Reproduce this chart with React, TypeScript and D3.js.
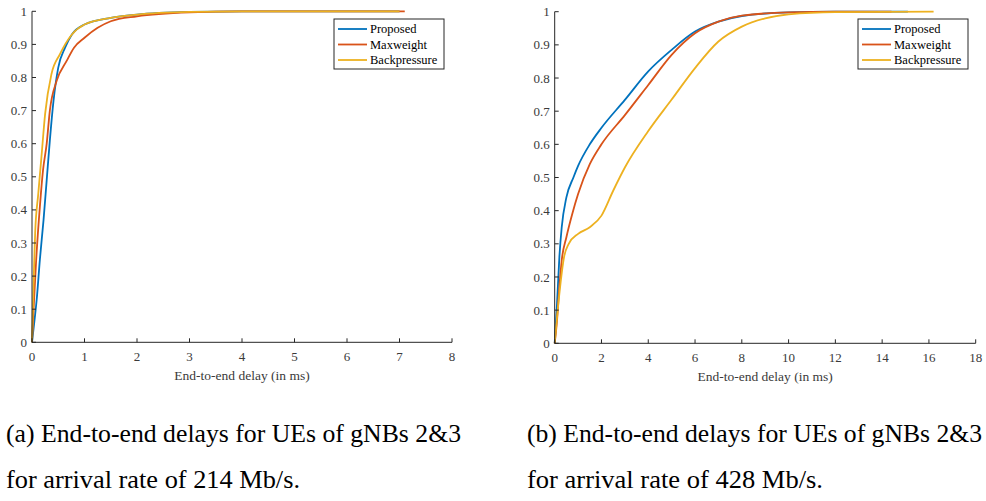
import React from "react";
import * as d3 from "d3";

const seriesNames = ["Proposed", "Maxweight", "Backpressure"];
const colors = ["#0072BD", "#D95319", "#EDB120"];

// Chart (a): 214 Mb/s
const aProposedX = [0, 0.05, 0.09, 0.15, 0.22, 0.28, 0.34, 0.41, 0.5, 0.63, 0.76, 1.0, 1.5, 2.0, 3.0, 4.0, 7.0];
const aProposedY = [0, 0.07, 0.13, 0.25, 0.37, 0.49, 0.61, 0.73, 0.83, 0.89, 0.93, 0.96, 0.98, 0.99, 0.998, 1, 1];
const aMaxX = [0, 0.03, 0.08, 0.15, 0.21, 0.28, 0.34, 0.47, 0.66, 0.8, 1.0, 1.25, 1.5, 2.0, 3.0, 4.0, 7.1];
const aMaxY = [0, 0.1, 0.25, 0.41, 0.52, 0.6, 0.7, 0.79, 0.85, 0.89, 0.92, 0.95, 0.97, 0.985, 0.997, 1, 1];
const aBackX = [0, 0.03, 0.06, 0.12, 0.18, 0.25, 0.37, 0.53, 0.76, 1.0, 1.5, 2.0, 3.0, 4.0, 7.0];
const aBackY = [0, 0.18, 0.33, 0.45, 0.56, 0.69, 0.81, 0.87, 0.93, 0.96, 0.98, 0.99, 0.998, 1, 1];

// Chart (b): 428 Mb/s
const bProposedX = [0, 0.1, 0.2, 0.3, 0.5, 0.8, 1.0, 1.5, 2.0, 3.0, 4.0, 5.0, 6.0, 7.0, 8.0, 10.0, 12.0, 15.1];
const bProposedY = [0, 0.12, 0.26, 0.35, 0.44, 0.5, 0.535, 0.6, 0.65, 0.734, 0.82, 0.885, 0.94, 0.97, 0.987, 0.998, 1, 1];
const bMaxX = [0, 0.1, 0.2, 0.3, 0.5, 0.75, 1.0, 1.5, 2.0, 3.0, 4.0, 5.0, 6.0, 7.0, 8.0, 10.0, 12.0, 14.4];
const bMaxY = [0, 0.07, 0.17, 0.25, 0.32, 0.39, 0.45, 0.54, 0.6, 0.688, 0.779, 0.87, 0.935, 0.97, 0.988, 0.998, 1, 1];
const bBackX = [0, 0.2, 0.4, 0.6, 1.0, 1.5, 2.0, 2.5, 3.0, 4.0, 5.0, 6.0, 7.0, 8.0, 9.0, 10.0, 12.0, 16.2];
const bBackY = [0, 0.15, 0.26, 0.3, 0.33, 0.35, 0.385, 0.46, 0.53, 0.64, 0.735, 0.83, 0.91, 0.955, 0.98, 0.992, 0.999, 1];

const yTicks = [0, 0.1, 0.2, 0.3, 0.4, 0.5, 0.6, 0.7, 0.8, 0.9, 1];
const aXTicks = [0, 1, 2, 3, 4, 5, 6, 7, 8];
const bXTicks = [0, 2, 4, 6, 8, 10, 12, 14, 16, 18];
const xLabel = "End-to-end delay (in ms)";
const captionA = ["(a) End-to-end delays for UEs of gNBs 2&3", "for arrival rate of 214 Mb/s."];
const captionB = ["(b) End-to-end delays for UEs of gNBs 2&3", "for arrival rate of 428 Mb/s."];

type Panel = {
  xs: number[][];
  ys: number[][];
  xMax: number;
  xTicks: number[];
  x0: number;
  x1: number;
  y0: number;
  y1: number;
  legendX: number;
};

const AXIS = "#262626";
const LABEL = "#3a3a3a";
const FONT = "'Liberation Serif', 'Times New Roman', serif";

function ChartPanel({ p }: { p: Panel }) {
  const x = d3.scaleLinear().domain([0, p.xMax]).range([p.x0, p.x1]);
  const y = d3.scaleLinear().domain([0, 1]).range([p.y0, p.y1]);
  const line = d3
    .line<[number, number]>()
    .x((d) => x(d[0]))
    .y((d) => y(d[1]))
    .curve(d3.curveMonotoneX);
  const tl = 4;
  const lx = p.legendX;
  return (
    <g>
      {p.xs.map((xs, i) => (
        <path
          key={i}
          d={line(xs.map((v, j) => [v, p.ys[i][j]] as [number, number])) || ""}
          fill="none"
          stroke={colors[i]}
          strokeWidth={1.8}
        />
      ))}
      <line x1={p.x0} x2={p.x0} y1={p.y0} y2={p.y1} stroke={AXIS} strokeWidth={1} />
      <line x1={p.x0} x2={p.x1} y1={p.y0} y2={p.y0} stroke={AXIS} strokeWidth={1} />
      {yTicks.map((t) => (
        <g key={"y" + t}>
          <line x1={p.x0} x2={p.x0 + tl} y1={y(t)} y2={y(t)} stroke={AXIS} strokeWidth={1} />
          <text x={p.x0 - 5} y={y(t)} dy="0.35em" textAnchor="end" fontSize={13} fill={LABEL} fontFamily={FONT}>
            {String(t)}
          </text>
        </g>
      ))}
      {p.xTicks.map((t) => (
        <g key={"x" + t}>
          <line x1={x(t)} x2={x(t)} y1={p.y0} y2={p.y0 - tl} stroke={AXIS} strokeWidth={1} />
          <text x={x(t)} y={p.y0 + 19} textAnchor="middle" fontSize={13} fill={LABEL} fontFamily={FONT}>
            {String(t)}
          </text>
        </g>
      ))}
      <text x={(p.x0 + p.x1) / 2} y={p.y0 + 38} textAnchor="middle" fontSize={13.5} fill={LABEL} fontFamily={FONT}>
        {xLabel}
      </text>
      <rect x={lx} y={19} width={110} height={50} fill="white" stroke={AXIS} strokeWidth={1} />
      {seriesNames.map((n, i) => (
        <g key={n}>
          <line x1={lx + 4} x2={lx + 33} y1={29 + i * 15.5} y2={29 + i * 15.5} stroke={colors[i]} strokeWidth={1.8} />
          <text x={lx + 36} y={29 + i * 15.5} dy="0.35em" fontSize={12.5} fill="#000" fontFamily={FONT}>
            {n}
          </text>
        </g>
      ))}
    </g>
  );
}

export default function App() {
  const panelA: Panel = {
    xs: [aProposedX, aMaxX, aBackX],
    ys: [aProposedY, aMaxY, aBackY],
    xMax: 8,
    xTicks: aXTicks,
    x0: 32,
    x1: 452,
    y0: 342.3,
    y1: 11.3,
    legendX: 334,
  };
  const panelB: Panel = {
    xs: [bProposedX, bMaxX, bBackX],
    ys: [bProposedY, bMaxY, bBackY],
    xMax: 18,
    xTicks: bXTicks,
    x0: 554.7,
    x1: 975.7,
    y0: 343.3,
    y1: 11.7,
    legendX: 858,
  };
  return (
    <svg
      width={986}
      height={501}
      style={{ position: "absolute", left: 0, top: 0, background: "white" }}
    >
      <rect width={986} height={501} fill="white" />
      <ChartPanel p={panelA} />
      <ChartPanel p={panelB} />
      <g fontFamily={FONT} fontSize={26} fill="#000">
        <text x={6} y={442} textLength={455} lengthAdjust="spacingAndGlyphs">{captionA[0]}</text>
        <text x={6} y={488} textLength={294} lengthAdjust="spacingAndGlyphs">{captionA[1]}</text>
        <text x={527} y={442} textLength={455} lengthAdjust="spacingAndGlyphs">{captionB[0]}</text>
        <text x={527} y={488} textLength={296} lengthAdjust="spacingAndGlyphs">{captionB[1]}</text>
      </g>
    </svg>
  );
}
